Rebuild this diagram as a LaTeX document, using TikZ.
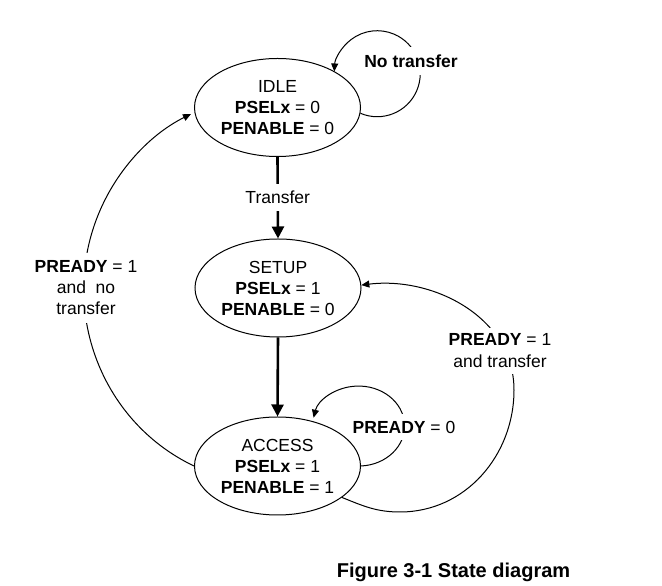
\documentclass[tikz,border=0pt]{standalone}
\usepackage{fontspec}
\setmainfont{Liberation Sans}
\usetikzlibrary{shapes.geometric,arrows.meta}
\begin{document}
\begin{tikzpicture}[x=1pt,y=1pt,
  state/.style={ellipse,draw,line width=1pt,minimum width=166pt,minimum height=98pt,
    inner sep=0pt,align=center,font=\fontsize{17.5}{21}\selectfont},
  conn/.style={line width=1pt,-{Triangle[length=8pt,width=7pt]}},
  thickconn/.style={line width=2.6pt,-{Triangle[length=12pt,width=12pt]}},
  lbl/.style={fill=white,inner xsep=2pt,inner ysep=7pt,align=center,
    font=\fontsize{17.5}{21}\selectfont}
]
\useasboundingbox (0,0) rectangle (662,586);

% states
\node[state] (idle) at (277.5,478.5) {IDLE\\\textbf{PSELx} = 0\\\textbf{PENABLE} = 0};
\node[state] (setup) at (278,298) {SETUP\\\textbf{PSELx} = 1\\\textbf{PENABLE} = 0};
\node[state] (access) at (277.5,120) {ACCESS\\\textbf{PSELx} = 1\\\textbf{PENABLE} = 1};

% IDLE -> SETUP
\draw[thickconn] (idle.south) -- (setup.north)
  node[lbl,midway] (tr) {Transfer};
% SETUP -> ACCESS
\draw[thickconn] (setup.south) -- (access.north);

% IDLE self loop
\draw[conn] (idle.-4) arc[start angle=-113,end angle=177,radius=43];
\node[lbl,inner ysep=8pt,font=\fontsize{17.5}{21}\selectfont\bfseries] (nt) at (411,525) {No transfer};

% ACCESS self loop
\draw[conn] (access.east) arc[start angle=-87,end angle=168,x radius=46,y radius=40];
\node[lbl] (p0) at (404,159) {\textbf{PREADY} = 0};

% ACCESS -> SETUP
\coordinate (rb) at (400,74);
\coordinate (rr) at (514,196);
\draw[conn] (access.-26) to[out=-22,in=180] (rb) to[out=0,in=-90] (rr) to[out=90,in=7] (setup.2);
\node[lbl,inner ysep=6pt,font=\fontsize{17.5}{22}\selectfont] (p1t) at (500,235) {\textbf{PREADY} = 1\\and transfer};

% ACCESS -> IDLE
\draw[conn] (access.west) arc[start angle=245,end angle=116,x radius=191,y radius=195];
\node[lbl,inner ysep=8pt] (p1n) at (86,298) {\textbf{PREADY} = 1\\and~ no\\transfer};

% caption
\node[anchor=base,font=\fontsize{20}{24}\selectfont\bfseries,inner sep=0pt] (cap) at (453.5,8) {Figure 3-1 State diagram};
\end{tikzpicture}
\end{document}
